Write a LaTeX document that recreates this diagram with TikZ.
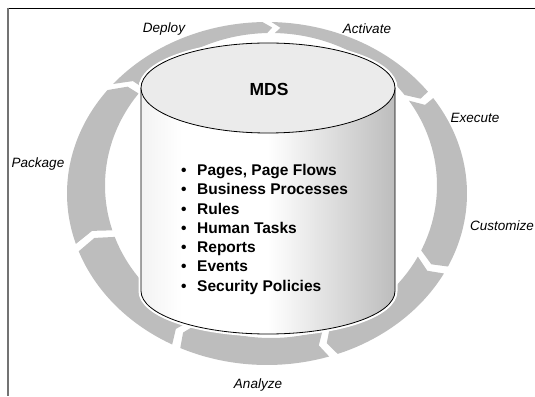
\documentclass[tikz,border=0pt]{standalone}
\usepackage{fontspec}
\setmainfont{Liberation Sans}
\definecolor{ringgray}{HTML}{BDBDBD}
\definecolor{topgray}{HTML}{EBEBEB}
\pgfdeclarehorizontalshading{cylshade}{100bp}{color(0bp)=(black!5); color(25bp)=(black!5); color(33bp)=(white); color(50bp)=(white); color(75bp)=(black!26); color(100bp)=(black!26)}
\newcommand\ringseg[2]{%
  \pgfmathsetmacro\rsA{#1-1.3}%
  \pgfmathsetmacro\rsB{#2+1.3}%
  \pgfmathsetmacro\rsBd{\rsB-2.3}%
  \pgfmathsetmacro\rsAd{\rsA-2.3}%
  \fill[ringgray] plot[domain=\rsA:\rsB,samples=40] ({267+200*cos(\x)},{202.5+171.5*sin(\x)})
    -- ({269+183*cos(\rsBd)},{206.5+162*sin(\rsBd)})
    -- plot[domain=\rsB:\rsA,samples=40] ({271+166*cos(\x)},{210.5+152.5*sin(\x)})
    -- ({269+183*cos(\rsAd)},{206.5+162*sin(\rsAd)}) -- cycle;}
\begin{document}
\begin{tikzpicture}[x=1pt,y=1pt,
  lbl/.style={font=\itshape\fontsize{13.5}{16}\selectfont, inner sep=0pt},
  item/.style={font=\bfseries\fontsize{15.5}{19}\selectfont, inner sep=0pt, anchor=base west},
  title/.style={font=\bfseries\fontsize{17.5}{20}\selectfont, inner sep=0pt}]
\useasboundingbox (0,0) rectangle (535,396);
% frame
\draw[black, line width=0.8pt] (8,388) -- (535,388);
\draw[black!55, line width=1.3pt] (8,388.4) -- (8,0);
% ring
\ringseg{141.6}{90}
\ringseg{90}{35.1}
\ringseg{35.1}{-26.5}
\ringseg{-26.5}{-70.6}
\ringseg{-70.6}{-117}
\ringseg{-117}{-161.6}
\ringseg{-161.6}{-218.4}
% cylinder
\path[draw=white, line width=5pt] (141,308) -- (141,105) arc[start angle=180, end angle=360, x radius=127, y radius=43] -- (395,308) arc[start angle=0, end angle=180, x radius=127, y radius=45] -- cycle;
\shade[shading=cylshade] (141,308) -- (141,105) arc[start angle=180, end angle=360, x radius=127, y radius=43] -- (395,308) -- cycle;
\draw[black, line width=0.8pt] (141,308) -- (141,105) arc[start angle=180, end angle=360, x radius=127, y radius=43] -- (395,308);
\draw[black, line width=0.8pt, fill=topgray] (268,308) ellipse[x radius=127, y radius=45];
\node[title] (mds) at (269,307) {MDS};
% items
\node[item] (i1) at (181,220.5) {\makebox[16pt][l]{•}Pages, Page Flows};
\node[item] (i2) at (181,201.2) {\makebox[16pt][l]{•}Business Processes};
\node[item] (i3) at (181,181.9) {\makebox[16pt][l]{•}Rules};
\node[item] (i4) at (181,162.6) {\makebox[16pt][l]{•}Human Tasks};
\node[item] (i5) at (181,143.3) {\makebox[16pt][l]{•}Reports};
\node[item] (i6) at (181,124.0) {\makebox[16pt][l]{•}Events};
\node[item] (i7) at (181,104.7) {\makebox[16pt][l]{•}Security Policies};
% labels
\node[lbl] (deploy) at (164,367) {Deploy};
\node[lbl] (activate) at (367,367) {Activate};
\node[lbl] (execute) at (475,278) {Execute};
\node[lbl] (package) at (38,232) {Package};
\node[lbl] (customize) at (502,170) {Customize};
\node[lbl] (analyze) at (258,11) {Analyze};
\end{tikzpicture}
\end{document}
